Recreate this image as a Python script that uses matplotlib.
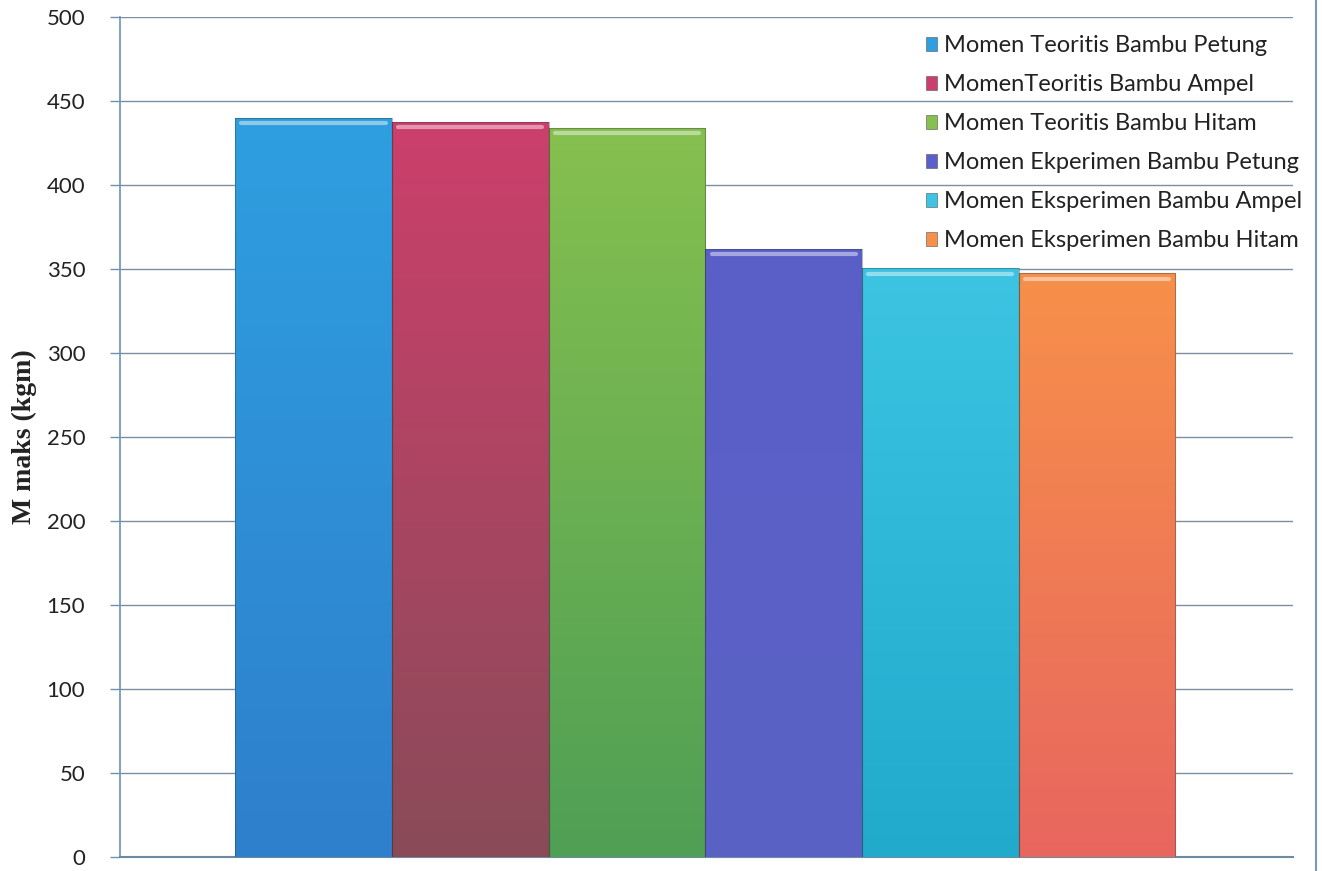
import numpy as np
import matplotlib
matplotlib.use("Agg")
import matplotlib.pyplot as plt
from matplotlib.colors import LinearSegmentedColormap
from matplotlib.patches import Patch
from matplotlib.lines import Line2D

# Maximum moment per bamboo type (kgm)
series_labels = [
    "Momen Teoritis Bambu Petung",
    "MomenTeoritis Bambu Ampel",
    "Momen Teoritis Bambu Hitam",
    "Momen Ekperimen Bambu Petung",
    "Momen Eksperimen Bambu Ampel",
    "Momen Eksperimen Bambu Hitam",
]
values = [440, 437.5, 434, 362, 350.5, 347.5]
y_ticks = [0, 50, 100, 150, 200, 250, 300, 350, 400, 450, 500]

# top / bottom colours of each bar's vertical gradient
top_colors = ["#2f9fe0", "#cc3f6c", "#86c04f", "#5b5fc9", "#3cc4e2", "#f7904a"]
bottom_colors = ["#2e7fcc", "#8a4b58", "#4f9f55", "#5a62c4", "#22aacd", "#e8665f"]

plt.rcParams["font.family"] = ["Lato", "DejaVu Sans"]

fig = plt.figure(figsize=(13.22, 8.71), dpi=100)
ax = fig.add_axes([120 / 1322, 14 / 871, (1293 - 120) / 1322, (857 - 17) / 871])

x = np.arange(len(values))
bars = ax.bar(x, values, width=1.0, color=top_colors, edgecolor="none", zorder=2)

# vertical gradient fill clipped to each bar
for rect, ct, cb, v in zip(bars, top_colors, bottom_colors, values):
    cmap = LinearSegmentedColormap.from_list("g", [cb, ct])
    grad = np.linspace(0, 1, 256).reshape(-1, 1)
    x0 = rect.get_x()
    w = rect.get_width()
    im = ax.imshow(grad, extent=(x0, x0 + w, 0, v), origin="lower",
                   aspect="auto", cmap=cmap, zorder=3, interpolation="bicubic")
    im.set_clip_path(rect)
    # bevel highlight along the top edge
    ax.plot([x0 + 0.04, x0 + w - 0.04], [v - 3.2, v - 3.2], color="white",
            alpha=0.45, lw=3, zorder=4, solid_capstyle="round")
    ax.plot([x0, x0, x0 + w, x0 + w], [0, v, v, 0], color="#333333",
            alpha=0.35, lw=0.8, zorder=4)

ax.set_xlim(-0.5 - 0.735, 5.5 + 0.75)
ax.set_ylim(0, 500)
ax.set_yticks(y_ticks)
ax.set_yticklabels([str(t) for t in y_ticks], fontsize=16, color="#222222")
ax.set_xticks([])

ax.yaxis.grid(True, color="#7c8fa0", lw=1.0, zorder=0)
ax.set_axisbelow(True)
for s in ["top", "right"]:
    ax.spines[s].set_visible(False)
ax.spines["left"].set_color("#6d93b3")
ax.spines["left"].set_linewidth(1.2)
ax.spines["bottom"].set_color("#6d8aa3")
ax.spines["bottom"].set_linewidth(1.5)
ax.tick_params(axis="y", length=7, width=1, color="#6d93b3", pad=18)

ax.set_ylabel("M maks (kgm)", fontsize=20, fontweight="bold",
              family="Liberation Serif", color="#222222")
ax.yaxis.set_label_coords((37 - 120) / 1173, 0.5)

# frame line on the right side of the chart area
fig.add_artist(Line2D([1316 / 1322, 1316 / 1322], [0, 1], color="#7d98b3",
                      lw=1.5, transform=fig.transFigure))

handles = [Patch(facecolor=c, edgecolor="#555555", lw=0.4) for c in top_colors]
leg = ax.legend(handles, series_labels, loc="upper right", frameon=False,
                fontsize=17, handlelength=0.5, handleheight=0.5,
                handletextpad=0.3, labelspacing=0.76, borderaxespad=0,
                bbox_to_anchor=((1312 - 120) / 1173, (857 - 26) / 840))
for t in leg.get_texts():
    t.set_color("#222222")

fig.savefig("out.png", dpi=100)
